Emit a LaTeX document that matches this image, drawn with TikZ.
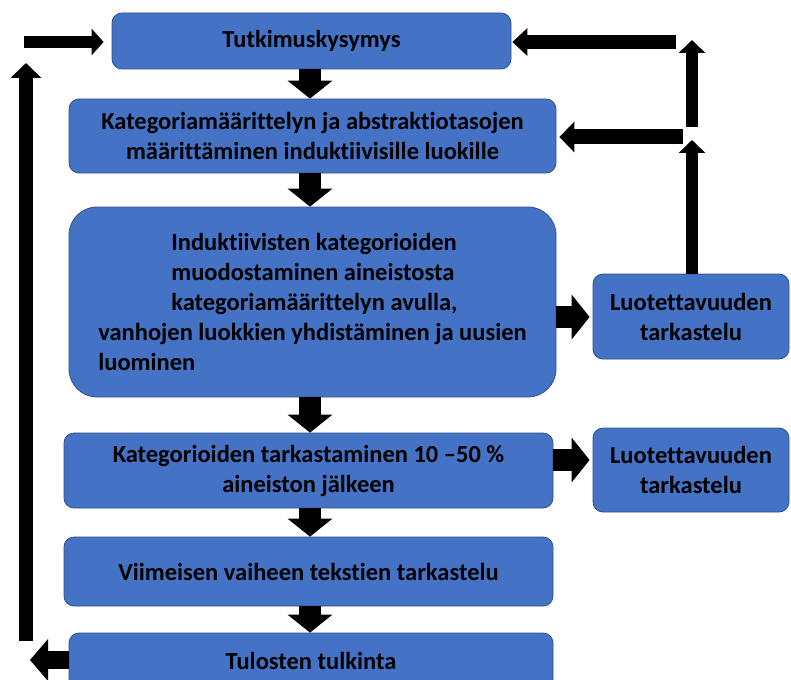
\documentclass[tikz,border=0pt]{standalone}
\usepackage{fontspec}
\setmainfont{Carlito}[Ligatures={NoCommon}]
\usetikzlibrary{arrows.meta,calc}
\definecolor{boxblue}{HTML}{4472C4}
\definecolor{boxedge}{HTML}{2F528F}
\begin{document}
\begin{tikzpicture}[x=1pt,y=-1pt,
  box/.style={draw=boxedge, fill=boxblue, line width=0.8pt, rounded corners=10pt,
    font=\bfseries\fontsize{24.5}{30}\selectfont, align=center, inner sep=0pt, text=black},
  bigdown/.style={line width=22pt, -{Triangle[length=18pt,width=44pt]}},
  bigright/.style={line width=22pt, -{Triangle[length=18pt,width=44pt]}, shorten >=3pt},
]
\useasboundingbox (0,0) rectangle (791,679);
\fill[white] (0,0) rectangle (791,679);

\node[box, minimum width=399pt, minimum height=56pt] (q) at (311.5,41) {Tutkimuskysymys};
\node[box, minimum width=487pt, minimum height=74pt] (k) at (312.5,136)
  {Kategoriamäärittelyn ja abstraktiotasojen\\määrittäminen induktiivisille luokille};
\node[box, minimum width=487pt, minimum height=190pt, rounded corners=28pt, align=left] (ind) at (312.5,302)
  {\hspace*{73pt}Induktiivisten kategorioiden\\\hspace*{73pt}muodostaminen aineistosta\\\hspace*{73pt}kategoriamäärittelyn avulla,\\vanhojen luokkien yhdistäminen ja uusien\\luominen};
\node[box, minimum width=196pt, minimum height=85pt] (l1) at (691,316.5) {Luotettavuuden\\tarkastelu};
\node[box, minimum width=489pt, minimum height=75pt] (tk) at (308.5,470.5)
  {Kategorioiden tarkastaminen 10 –50 \%\\aineiston jälkeen};
\node[box, minimum width=196pt, minimum height=84pt] (l2) at (691,470) {Luotettavuuden\\tarkastelu};
\node[box, minimum width=489pt, minimum height=69pt] (v) at (308.5,571.5)
  {Viimeisen vaiheen tekstien tarkastelu};
\node[box, minimum width=484pt, minimum height=56pt] (t) at (311,661) {Tulosten tulkinta};

% main flow
\coordinate (mx) at (310,0);
\draw[bigdown] (q.south -| mx) -- (k.north -| mx);
\draw[bigdown] (k.south -| mx) -- (ind.north -| mx);
\draw[bigdown] (ind.south -| mx) -- (tk.north -| mx);
\draw[bigdown] (tk.south -| mx) -- (v.north -| mx);
\draw[bigdown] (v.south -| mx) -- (t.north -| mx);

% to reliability checks
\coordinate (ra) at (0,317);
\coordinate (rb) at (0,460);
\draw[bigright] (ind.east |- ra) -- (l1.west |- ra);
\draw[bigright] (tk.east |- rb) -- (l2.west |- rb);

% left loop
\coordinate (a1) at (24,42);
\coordinate (b1) at (26,641);
\coordinate (b2) at (26,63);
\coordinate (c1) at (30,660);
\draw[line width=12pt, -{Triangle[length=12pt,width=26pt]}, shorten >=8pt] (a1) -- (q.west |- a1);
\draw[line width=14pt, -{Triangle[length=15pt,width=30pt]}] (b1) -- (b2);
\draw[line width=18pt, -{Triangle[length=18pt,width=41pt]}] (t.west |- c1) -- (c1);

% right feedback
\coordinate (r1) at (676,42);
\coordinate (r2) at (683,137);
\coordinate (r3) at (692,127);
\coordinate (r4) at (692,40);
\coordinate (r5) at (692,140);
\draw[line width=14pt, -{Triangle[length=15pt,width=27pt]}, shorten >=1pt] (r1) -- (q.east |- r1);
\draw[line width=15pt, -{Triangle[length=15pt,width=30pt]}, shorten >=3pt] (r2) -- (k.east |- r2);
\draw[line width=12pt, -{Triangle[length=13pt,width=26pt]}] (r3) -- (r4);
\draw[line width=12pt, -{Triangle[length=13pt,width=26pt]}] (l1.north -| r5) -- (r5);
\end{tikzpicture}
\end{document}
